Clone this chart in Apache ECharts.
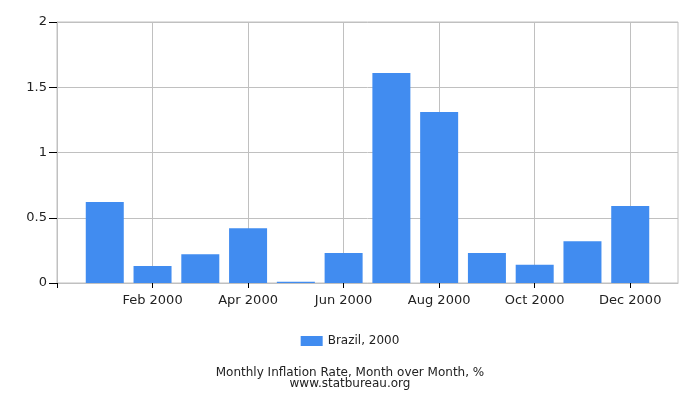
<!DOCTYPE html>
<html>
<head>
<meta charset="utf-8">
<script src="https://cdn.jsdelivr.net/npm/echarts@6/dist/echarts.min.js"></script>
<style>html,body{margin:0;padding:0;background:#fff}#c{width:700px;height:400px}</style>
</head>
<body>
<div id="c"></div>
<script>
const months = ['Jan 2000','Feb 2000','Mar 2000','Apr 2000','May 2000','Jun 2000','Jul 2000','Aug 2000','Sep 2000','Oct 2000','Nov 2000','Dec 2000'];
const brazil2000 = [0.62, 0.13, 0.22, 0.42, 0.01, 0.23, 1.61, 1.31, 0.23, 0.14, 0.32, 0.59];
const yTicks = [0, 0.5, 1, 1.5, 2];
const seriesName = 'Brazil, 2000';
const titleLines = ['Monthly Inflation Rate, Month over Month, %', 'www.statbureau.org'];

const cats = [''].concat(months, ['']);
const data = [null].concat(brazil2000, [null]);
const font = 'DejaVu Sans';

const chart = echarts.init(document.getElementById('c'), null, {renderer: 'canvas'});
chart.setOption({
  animation: false,
  textStyle: {fontFamily: font},
  grid: {left: 57, right: 22, top: 22, bottom: 117, show: true, borderColor: '#c0c0c0', borderWidth: 1},
  title: {
    text: titleLines.join('\n'),
    left: 'center', top: 362,
    textStyle: {fontFamily: font, fontSize: 12, fontWeight: 'normal', color: '#222', lineHeight: 11}
  },
  legend: {
    data: [seriesName], bottom: 48, left: 'center',
    icon: 'rect', itemWidth: 22, itemHeight: 10, itemGap: 5,
    textStyle: {fontFamily: font, fontSize: 12, color: '#222'}
  },
  xAxis: {
    type: 'category', data: cats, boundaryGap: false,
    axisLine: {show: true, lineStyle: {color: '#c0c0c0'}},
    axisTick: {show: true, length: 5, interval: (i) => i % 2 === 0 && i < 13, lineStyle: {color: '#000'}},
    axisLabel: {interval: (i) => i % 2 === 0 && i > 0 && i < 13, color: '#222', fontSize: 13, margin: 11, fontFamily: font},
    splitLine: {show: true, interval: (i) => i % 2 === 0 && i > 0 && i < 13, lineStyle: {color: '#c0c0c0'}}
  },
  yAxis: {
    type: 'value', min: yTicks[0], max: yTicks[yTicks.length - 1], interval: 0.5,
    axisLine: {show: true, lineStyle: {color: '#c0c0c0'}},
    axisTick: {show: true, length: 8, lineStyle: {color: '#000'}},
    axisLabel: {color: '#222', fontSize: 13, margin: 10, fontFamily: font},
    splitLine: {show: true, lineStyle: {color: '#c0c0c0'}}
  },
  series: [{
    name: seriesName, type: 'bar', data: data, barWidth: 38,
    itemStyle: {color: '#418CF0'}
  }]
});
</script>
</body>
</html>
